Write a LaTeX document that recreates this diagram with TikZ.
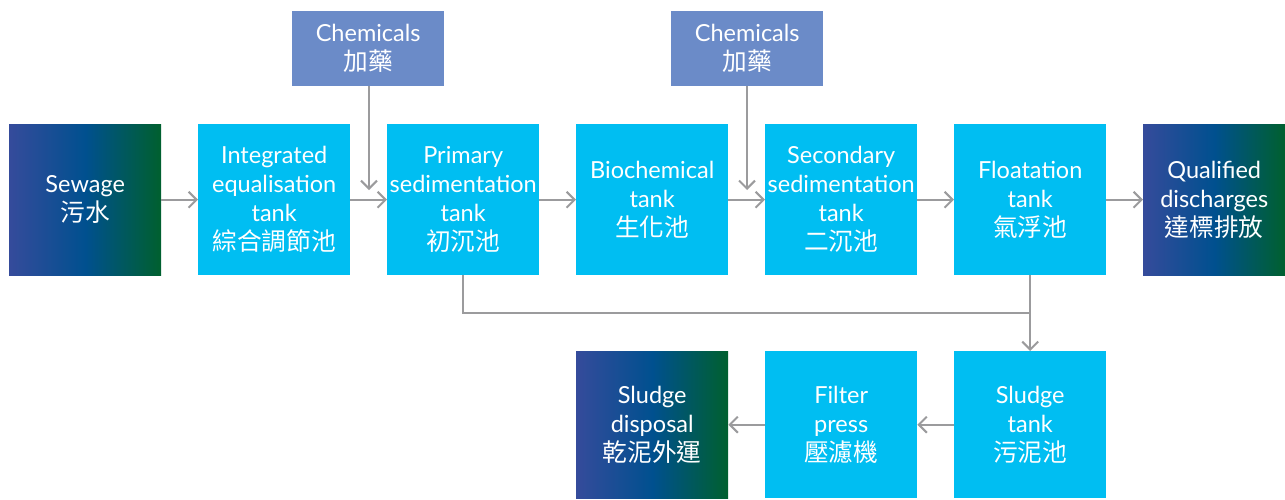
\documentclass[tikz,border=0pt]{standalone}
\usepackage{fontspec}
\setmainfont{Lato}
\newfontfamily\cjk[Scale=1.05]{Noto Sans CJK TC}
\usetikzlibrary{arrows.meta}
\definecolor{boxcyan}{HTML}{00BEF2}
\definecolor{chemblue}{HTML}{6B8BC8}
\definecolor{gradL}{HTML}{354B9B}
\definecolor{gradM}{HTML}{00508F}
\definecolor{gradR}{HTML}{00602E}
\definecolor{arrowgray}{HTML}{9B9B9D}
\begin{document}
\begin{tikzpicture}[x=1pt,y=-1pt,
 box/.style={minimum width=152pt, minimum height=151pt, inner sep=0pt, text=white, align=center, font=\fontsize{23.5}{29}\selectfont, anchor=north west},
 proc/.style={box, fill=boxcyan},
 term/.style={box, left color=gradL, right color=gradR, middle color=gradM},
 chem/.style={box, fill=chemblue, minimum height=75pt},
 flow/.style={draw=arrowgray, line width=2pt, -{Straight Barb[length=8pt,width=16pt,line width=2pt]}},
 plain/.style={draw=arrowgray, line width=2pt},
]
\useasboundingbox (0,0) rectangle (1285,499);
\node[term] (sew) at (9,124) {Sewage\\{\cjk 污水}};
\node[proc] (int) at (198,124) {Integrated\\equalisation\\tank\\{\cjk 綜合調節池}};
\node[proc] (prim) at (387,124) {Primary\\sedimentation\\tank\\{\cjk 初沉池}};
\node[proc] (bio) at (576,124) {Biochemical\\tank\\{\cjk 生化池}};
\node[proc] (sec) at (765,124) {Secondary\\sedimentation\\tank\\{\cjk 二沉池}};
\node[proc] (flo) at (954,124) {Floatation\\tank\\{\cjk 氣浮池}};
\node[term, minimum width=142pt] (qual) at (1143,124) {Qualified\\discharges\\{\cjk 達標排放}};
\node[chem] (ch1) at (292,11) {Chemicals\\{\cjk 加藥}};
\node[chem] (ch2) at (671,11) {Chemicals\\{\cjk 加藥}};
\node[proc, minimum height=147pt] (stank) at (954,351) {Sludge\\tank\\{\cjk 污泥池}};
\node[proc, minimum height=147pt] (fil) at (765,351) {Filter\\press\\{\cjk 壓濾機}};
\node[term, minimum height=147pt] (disp) at (576,351) {Sludge\\disposal\\{\cjk 乾泥外運}};
\coordinate (c1) at (369,190);
\coordinate (c2) at (747,190);
\draw[flow] (sew) -- (int);
\draw[flow] (int) -- (prim);
\draw[flow] (prim) -- (bio);
\draw[flow] (bio) -- (sec);
\draw[flow] (sec) -- (flo);
\draw[flow] (flo.east) -- (qual.west |- flo.east);
\draw[flow] (ch1.south -| c1) -- (c1);
\draw[flow] (ch2.south -| c2) -- (c2);
\draw[flow] (prim.south) -- ++(0,38) -| (stank.north);
\draw[plain] (flo.south) -- ++(0,38);
\draw[flow] (stank) -- (fil);
\draw[flow] (fil) -- (disp);
\end{tikzpicture}
\end{document}
